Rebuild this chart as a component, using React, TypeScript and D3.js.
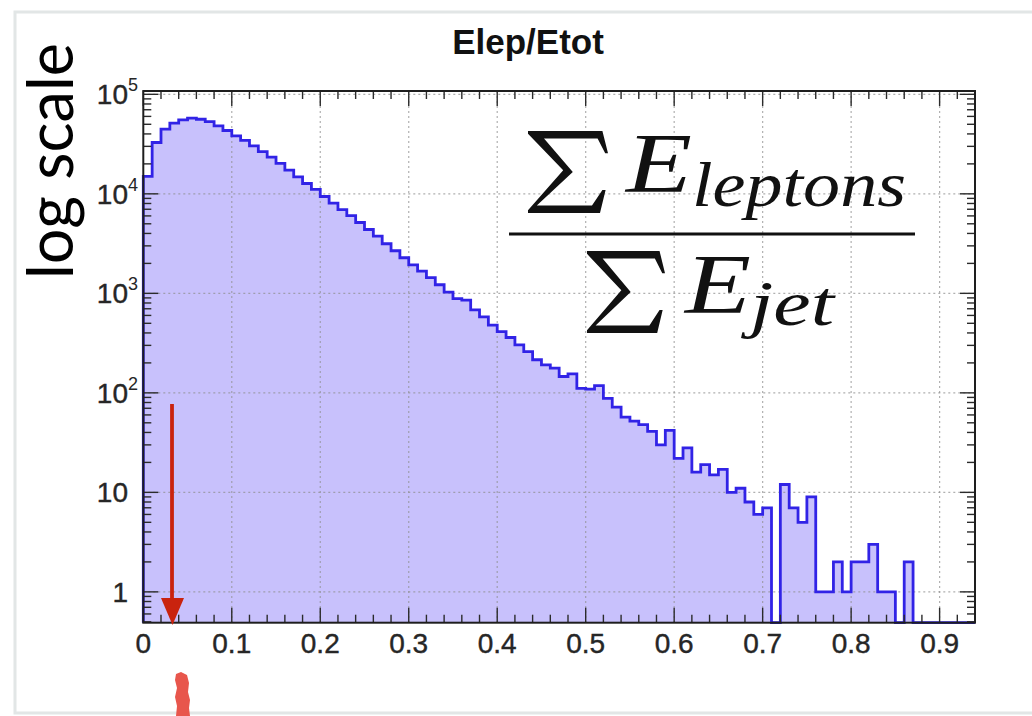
import React, { useEffect, useRef } from 'react';
import * as d3 from 'd3';

// histogram: Elep/Etot, 0.01 wide bins starting at 0
const binStart = 0;
const binWidth = 0.01;
const counts = [
  15000, 32800, 44700, 51300, 55400, 57600, 56200, 53200, 48200, 43300, // 0.00
  38300, 34400, 30400, 26600, 23400, 20200, 17300, 14800, 12700, 11100, // 0.10
  9400, 8060, 6950, 6050, 5150, 4380, 3750, 3150, 2680, 2280, // 0.20
  1930, 1670, 1440, 1220, 1030, 885, 855, 683, 580, 480, // 0.30
  413, 360, 304, 260, 215, 191, 177, 146, 155, 111, // 0.40
  109, 118, 88, 72, 57, 52, 48, 41, 30, 42, // 0.50
  22, 28, 16, 19, 15, 17, 10, 11, 8, 6, // 0.60
  7, 0, 12, 7, 5, 9, 1, 1, 2, 1, // 0.70
  2, 2, 3, 1, 1, 0, 2, 0, 0, 0, // 0.80
  0, 0, 0, 0, // 0.90
];

const xTicks = [0, 0.1, 0.2, 0.3, 0.4, 0.5, 0.6, 0.7, 0.8, 0.9];
const xTickLabels = ['0', '0.1', '0.2', '0.3', '0.4', '0.5', '0.6', '0.7', '0.8', '0.9'];
const yTicks = [1, 10, 100, 1000, 10000, 100000];
const yTickBase = ['1', '10', '10', '10', '10', '10'];
const yTickExp = ['', '', '2', '3', '4', '5'];

const title = 'Elep/Etot';
const sideNote = 'log scale';
const numSub = 'leptons';
const denSub = 'jet';

const W = 1032;
const H = 716;

// rough shape of a display-style summation sign, in unit box
const sigmaShape: [number, number][] = [
  [0, 0], [0.93, 0], [1, 0.27], [0.965, 0.27], [0.87, 0.09], [0.2, 0.09],
  [0.56, 0.5], [0.11, 0.91], [0.8, 0.91], [0.93, 0.72], [0.97, 0.72],
  [0.9, 1], [0, 1], [0, 0.965], [0.44, 0.48], [0, 0.035],
];

const App: React.FC = () => {
  const svgRef = useRef<SVGSVGElement>(null);

  useEffect(() => {
    if (!svgRef.current) return;
    const svg = d3.select(svgRef.current);
    svg.selectAll('*').remove();

    const left = 143.3, right = 975, top = 91, bottom = 622.7;
    const xMax = binStart + counts.length * binWidth;
    const x = d3.scaleLinear().domain([0, xMax]).range([left, right]);
    const y = d3.scaleLog().domain([0.49, 1.08e5]).range([bottom, top]);

    svg.append('rect').attr('width', W).attr('height', H).attr('fill', '#fff');

    // page border of the screenshot
    svg.append('path')
      .attr('d', `M${W + 5},12 L15,12 L15,713 L${W + 5},713`)
      .attr('fill', 'none').attr('stroke', '#e2e6e6').attr('stroke-width', 3);

    const defs = svg.append('defs');
    defs.append('clipPath').attr('id', 'plot-clip')
      .append('rect').attr('x', left).attr('y', top).attr('width', right - left).attr('height', bottom - top);

    // step points
    const pts: [number, number][] = [[x(binStart), bottom]];
    counts.forEach((c, i) => {
      const yy = c > 0 ? y(c) : bottom;
      pts.push([x(binStart + i * binWidth), yy], [x(binStart + (i + 1) * binWidth), yy]);
    });
    pts.push([x(xMax), bottom]);

    const g = svg.append('g');

    g.append('path')
      .attr('clip-path', 'url(#plot-clip)')
      .attr('d', d3.area<[number, number]>().x(d => d[0]).y0(bottom).y1(d => d[1])(pts) || '')
      .attr('fill', '#c8c1fc');

    // grid
    xTicks.filter(v => v > 0).forEach(v => {
      g.append('line').attr('x1', x(v)).attr('x2', x(v)).attr('y1', top).attr('y2', bottom)
        .attr('stroke', '#8f8f8f').attr('stroke-width', 1.2).attr('stroke-dasharray', '2,3').attr('opacity', 0.7);
    });
    yTicks.forEach(v => {
      g.append('line').attr('x1', left).attr('x2', right).attr('y1', y(v)).attr('y2', y(v))
        .attr('stroke', '#8f8f8f').attr('stroke-width', 1.2).attr('stroke-dasharray', '2,3').attr('opacity', 0.7);
    });

    g.append('path')
      .attr('d', d3.line<[number, number]>().x(d => d[0]).y(d => d[1])(pts) || '')
      .attr('fill', 'none').attr('stroke', '#3123e6').attr('stroke-width', 2.8).attr('stroke-linejoin', 'miter');

    // ticks
    const tickColor = '#2b2b2b';
    const xMinor = d3.range(0, 48).map(i => i * 0.02).filter(v => v <= xMax && Math.round(v * 100) % 10 !== 0);
    const tick = (x1: number, y1: number, x2: number, y2: number) =>
      g.append('line').attr('x1', x1).attr('y1', y1).attr('x2', x2).attr('y2', y2)
        .attr('stroke', tickColor).attr('stroke-width', 1.4);
    xTicks.forEach(v => { tick(x(v), bottom, x(v), bottom - 15); tick(x(v), top, x(v), top + 15); });
    xMinor.forEach(v => { tick(x(v), bottom, x(v), bottom - 8); tick(x(v), top, x(v), top + 8); });
    const yMinor: number[] = [];
    [0.1, 1, 10, 100, 1000, 10000].forEach(d => d3.range(2, 10).forEach(m => {
      const v = d * m;
      if (v >= 0.49 && v <= 1.08e5) yMinor.push(v);
    }));
    yTicks.forEach(v => { tick(left, y(v), left + 15, y(v)); tick(right, y(v), right - 15, y(v)); });
    yMinor.forEach(v => { tick(left, y(v), left + 8, y(v)); tick(right, y(v), right - 8, y(v)); });

    // frame
    g.append('rect').attr('x', left).attr('y', top).attr('width', right - left).attr('height', bottom - top)
      .attr('fill', 'none').attr('stroke', '#1e1e1e').attr('stroke-width', 2);

    // labels
    const sans = '"Liberation Sans", Arial, Helvetica, sans-serif';
    xTicks.forEach((v, i) => {
      g.append('text').attr('x', x(v)).attr('y', 653).attr('text-anchor', 'middle')
        .attr('font-family', sans).attr('font-size', 28).attr('fill', '#262626')
        .attr('stroke', '#262626').attr('stroke-width', 0.4).text(xTickLabels[i]);
    });
    yTicks.forEach((v, i) => {
      g.append('text').attr('x', 128).attr('y', y(v) + 10).attr('text-anchor', 'end')
        .attr('font-family', sans).attr('font-size', 28).attr('fill', '#262626')
        .attr('stroke', '#262626').attr('stroke-width', 0.4).text(yTickBase[i]);
      if (yTickExp[i]) {
        g.append('text').attr('x', 128).attr('y', y(v) - 3).attr('text-anchor', 'start')
          .attr('font-family', sans).attr('font-size', 18).attr('fill', '#262626').text(yTickExp[i]);
      }
    });

    svg.append('text').attr('x', 528).attr('y', 54).attr('text-anchor', 'middle')
      .attr('font-family', sans).attr('font-weight', 'bold').attr('font-size', 35).attr('fill', '#111').text(title);

    svg.append('text').attr('transform', 'translate(73,161) rotate(-90)').attr('text-anchor', 'middle')
      .attr('font-family', 'Lato, "Noto Sans", sans-serif').attr('font-size', 63).attr('fill', '#000').text(sideNote);

    // formula  sum E_leptons / sum E_jet
    const sigma = (x0: number, y0: number, w: number, h: number) =>
      svg.append('path')
        .attr('d', 'M' + sigmaShape.map(([u, v]) => `${x0 + u * w},${y0 + v * h}`).join('L') + 'Z')
        .attr('fill', '#111');
    const serif = '"Liberation Serif", "DejaVu Serif", serif';
    sigma(528, 131, 80, 82);
    svg.append('text').attr('x', 626).attr('y', 192).attr('font-family', serif).attr('font-style', 'italic')
      .attr('font-size', 84).attr('fill', '#111').attr('textLength', 66).attr('lengthAdjust', 'spacingAndGlyphs').text('E');
    svg.append('text').attr('x', 692).attr('y', 206).attr('font-family', serif).attr('font-style', 'italic')
      .attr('font-size', 64).attr('fill', '#111').attr('textLength', 214).attr('lengthAdjust', 'spacingAndGlyphs').text(numSub);
    svg.append('rect').attr('x', 509).attr('y', 232.5).attr('width', 406).attr('height', 3).attr('fill', '#111');
    sigma(587, 251, 78, 82);
    svg.append('text').attr('x', 685).attr('y', 313).attr('font-family', serif).attr('font-style', 'italic')
      .attr('font-size', 84).attr('fill', '#111').attr('textLength', 66).attr('lengthAdjust', 'spacingAndGlyphs').text('E');
    svg.append('text').attr('x', 750).attr('y', 325).attr('font-family', serif).attr('font-style', 'italic')
      .attr('font-size', 64).attr('fill', '#111').attr('textLength', 84).attr('lengthAdjust', 'spacingAndGlyphs').text(denSub);

    // red arrow
    svg.append('line').attr('x1', 172).attr('y1', 404).attr('x2', 172).attr('y2', 600)
      .attr('stroke', '#c9230e').attr('stroke-width', 3.8);
    svg.append('path').attr('d', 'M161,598 L184,598 L172.5,625 Z').attr('fill', '#c9230e');

    // red smudge below the axis
    svg.append('path')
      .attr('d', 'M176,674 L181,672 L187,675 L189,683 L188,692 L190,700 L189,708 L190,716 L176,716 L177,706 L175,697 L177,688 L175,680 Z')
      .attr('fill', '#e8564c');
  }, []);

  return (
    <div style={{ position: 'absolute', left: 0, top: 0, width: W, height: H }}>
      <svg ref={svgRef} width={W} height={H} style={{ display: 'block' }} />
    </div>
  );
};

export default App;
